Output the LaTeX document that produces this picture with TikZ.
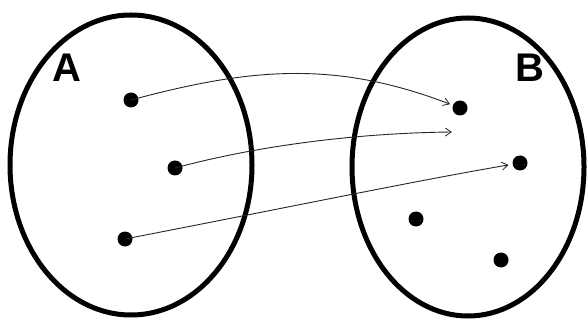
\documentclass[tikz,border=0pt]{standalone}
\usepackage{fontspec}
\setmainfont{Liberation Sans}
\usetikzlibrary{arrows.meta}
\begin{document}
\begin{tikzpicture}[x=1pt,y=-1pt,
  setring/.style={draw=black,line width=5pt},
  elem/.style={circle,fill=black,inner sep=0pt,minimum size=15pt},
  maparrow/.style={draw=black!85,line width=0.9pt,-{Straight Barb[length=6pt,width=8pt,line width=0.8pt]}},
  setlabel/.style={font=\fontsize{40}{40}\selectfont\bfseries,inner sep=0pt}]
\useasboundingbox (0,0) rectangle (588,320);
\fill[white] (0,0) rectangle (588,320);
\draw[setring] (131,165) ellipse [x radius=121, y radius=150];
\draw[setring] (468,167) ellipse [x radius=116, y radius=149];
\node[setlabel] (A) at (67,68) {A};
\node[setlabel] (B) at (530,68) {B};
\node[elem] (a1) at (131,100) {};
\node[elem] (a2) at (175,168) {};
\node[elem] (a3) at (125,239) {};
\node[elem] (b1) at (460,108) {};
\node[elem] (b2) at (520,163) {};
\node[elem] (b3) at (416,219) {};
\node[elem] (b4) at (501,260) {};
\coordinate (e2) at (452,132);
\draw[maparrow,shorten >=3pt] (a1.center) .. controls (250,68) and (335,60) .. (b1);
\draw[maparrow] (a2.center) .. controls (260,145) and (360,133) .. (e2);
\draw[maparrow,shorten >=4pt] (a3.center) .. controls (300,205) and (420,180) .. (b2);
\end{tikzpicture}
\end{document}
